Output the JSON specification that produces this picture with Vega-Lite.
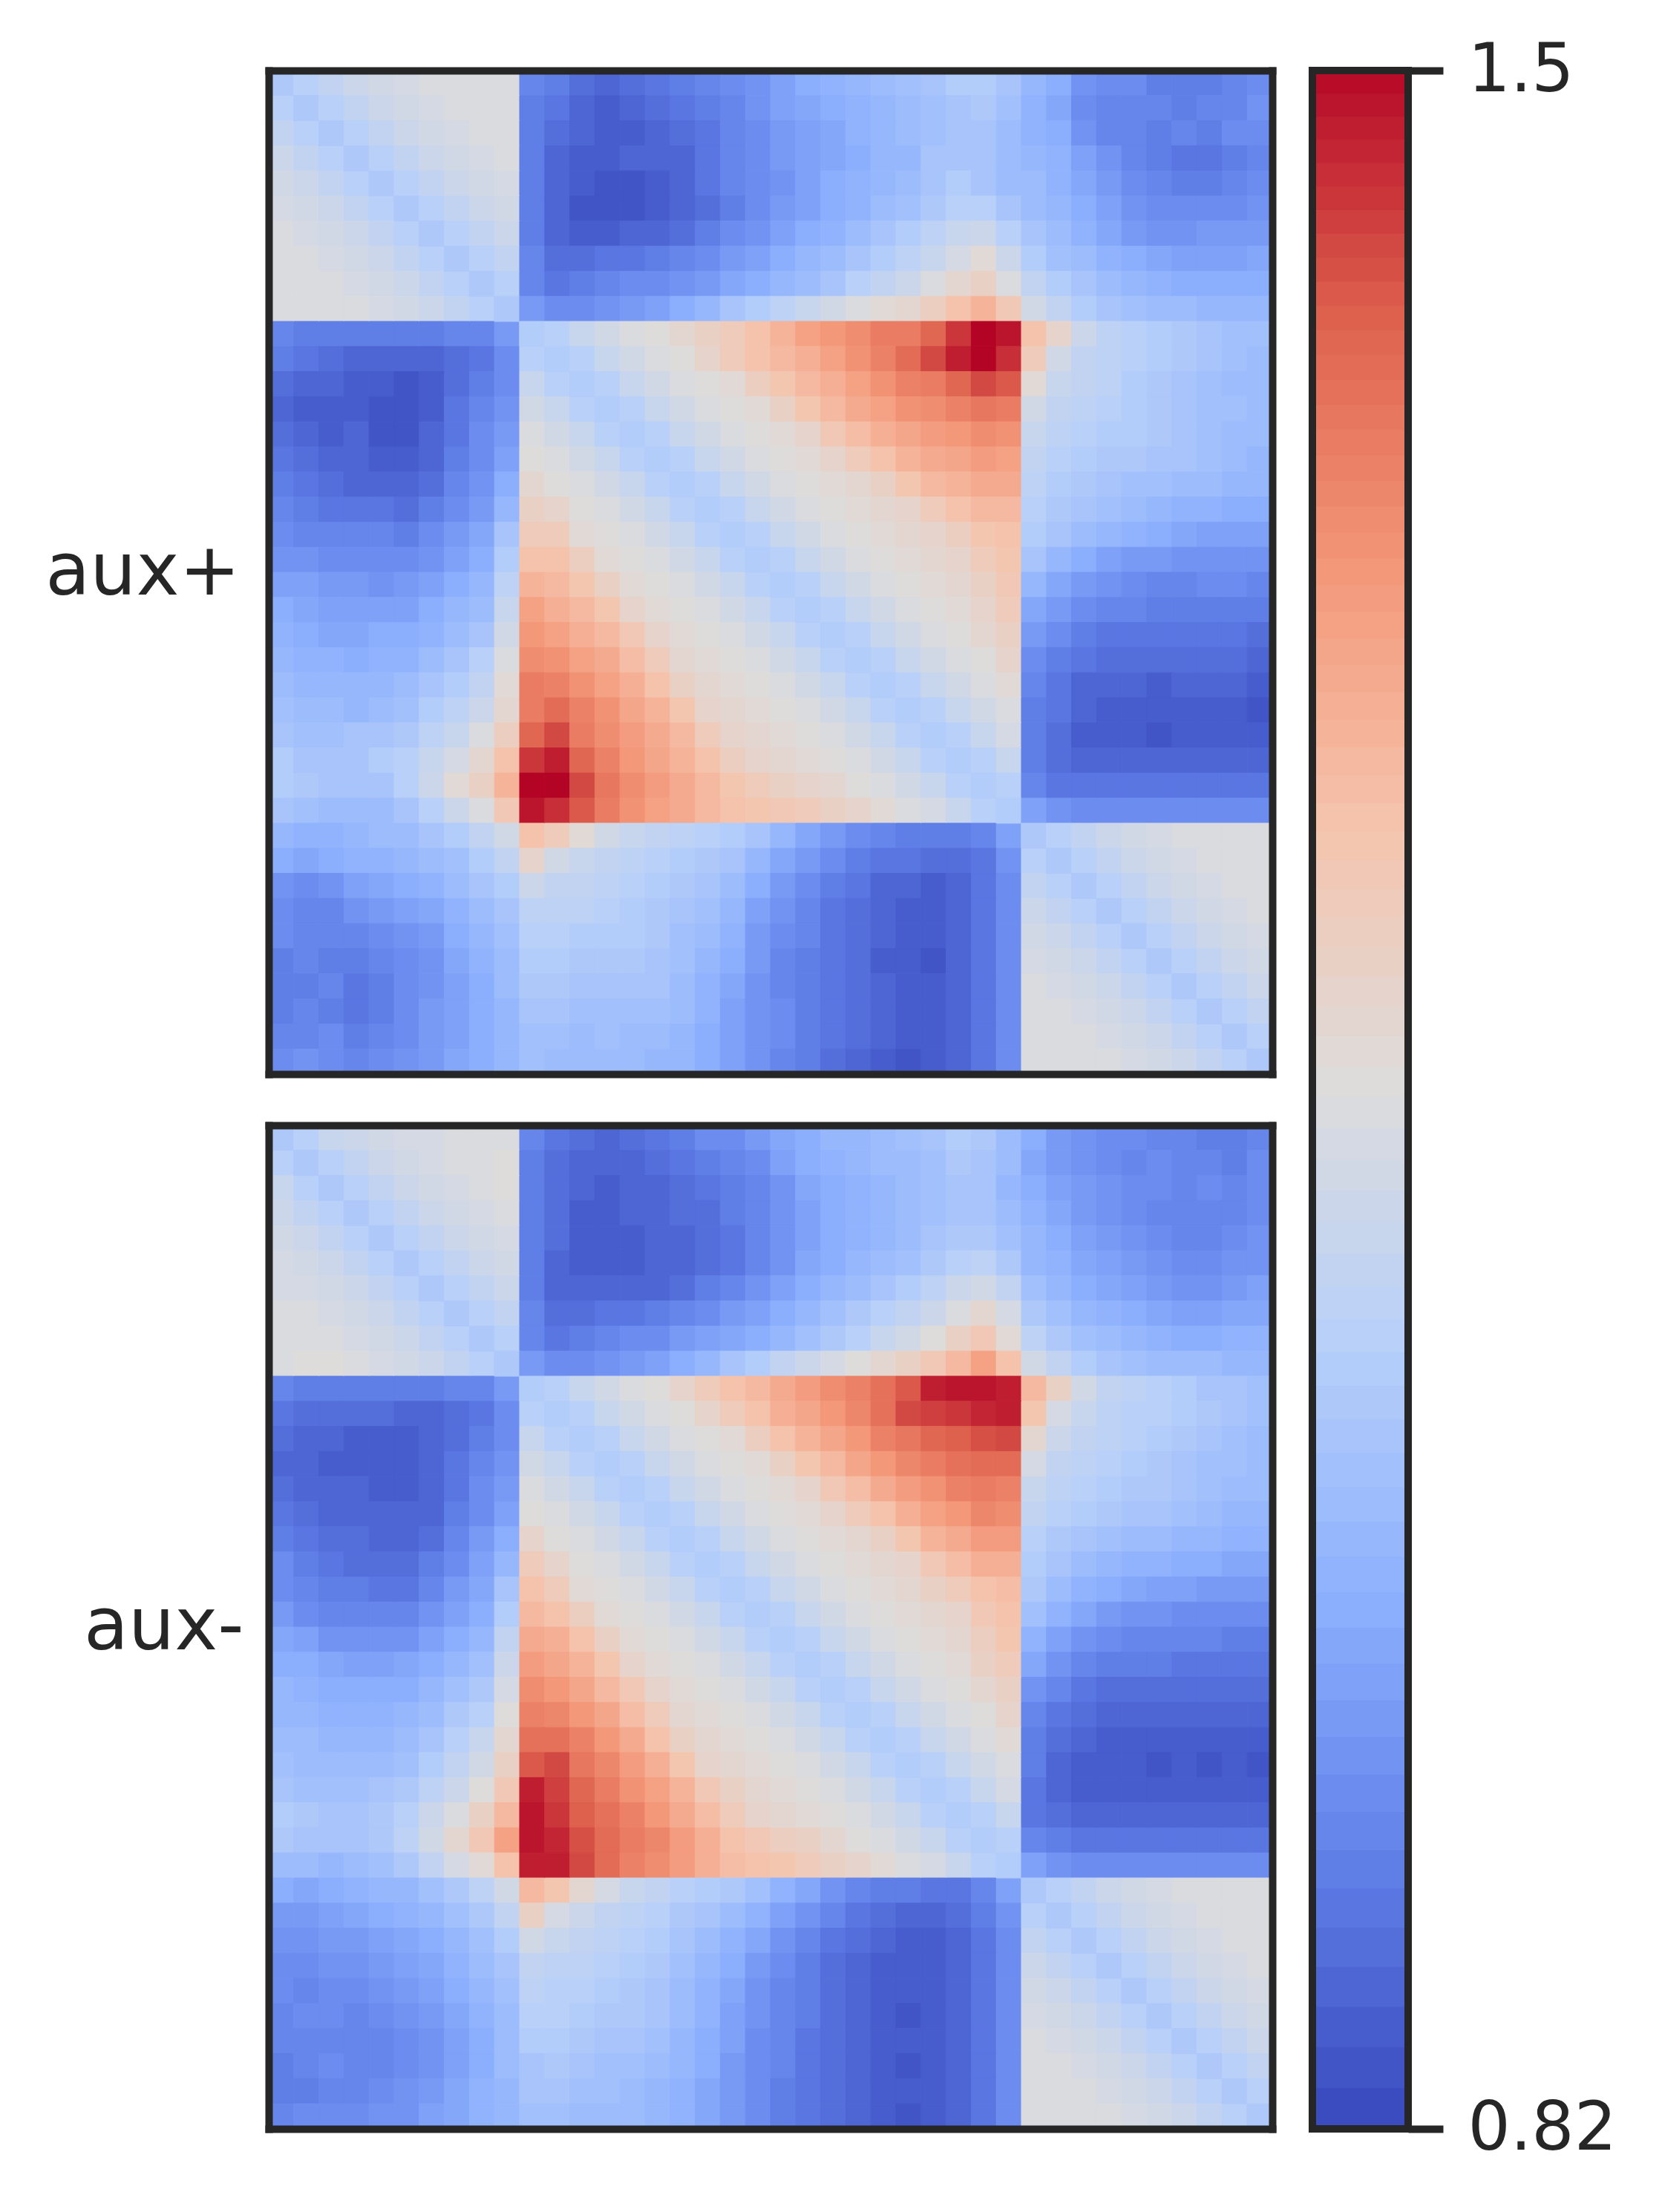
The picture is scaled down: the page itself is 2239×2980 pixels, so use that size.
{"$schema":"https://vega.github.io/schema/vega-lite/v6.json","background":"white","padding":{"left":60,"top":50,"right":5,"bottom":5},
"config":{"view":{"stroke":null},"range":{"heatmap":["#3b4cc0","#6282ea","#8db0fe","#b8d0f9","#dddcdc","#f5c4ad","#f4987a","#de614d","#b40426"]},"axis":{"labelFont":"DejaVu Sans","titleFont":"DejaVu Sans","labelColor":"#262626","titleColor":"#262626","titleFontWeight":"normal"}},
"datasets":{"hm":[
{"a":0,"b":0,"p":1.01,"m":1.01},{"a":0,"b":1,"p":1.03,"m":1.03},{"a":0,"b":2,"p":1.05,"m":1.06},{"a":0,"b":3,"p":1.07,"m":1.07},{"a":0,"b":4,"p":1.08,"m":1.08},{"a":0,"b":5,"p":1.09,"m":1.09},{"a":0,"b":6,"p":1.1,"m":1.09},{"a":0,"b":7,"p":1.1,"m":1.1},{"a":0,"b":8,"p":1.1,"m":1.1},{"a":0,"b":9,"p":1.1,"m":1.1},
{"a":0,"b":10,"p":0.89,"m":0.89},{"a":0,"b":11,"p":0.88,"m":0.87},{"a":0,"b":12,"p":0.86,"m":0.86},{"a":0,"b":13,"p":0.85,"m":0.85},{"a":0,"b":14,"p":0.86,"m":0.86},{"a":0,"b":15,"p":0.87,"m":0.87},{"a":0,"b":16,"p":0.88,"m":0.88},{"a":0,"b":17,"p":0.89,"m":0.9},{"a":0,"b":18,"p":0.9,"m":0.9},{"a":0,"b":19,"p":0.91,"m":0.92},{"a":0,"b":20,"p":0.93,"m":0.94},{"a":0,"b":21,"p":0.95,"m":0.95},{"a":0,"b":22,"p":0.96,"m":0.97},{"a":0,"b":23,"p":0.97,"m":0.97},{"a":0,"b":24,"p":0.98,"m":0.98},{"a":0,"b":25,"p":0.99,"m":0.99},{"a":0,"b":26,"p":1.0,"m":1.0},{"a":0,"b":27,"p":1.02,"m":1.02},{"a":0,"b":28,"p":1.02,"m":1.01},{"a":0,"b":29,"p":1.0,"m":0.98},
{"a":0,"b":30,"p":0.97,"m":0.95},{"a":0,"b":31,"p":0.95,"m":0.92},{"a":0,"b":32,"p":0.91,"m":0.91},{"a":0,"b":33,"p":0.9,"m":0.9},{"a":0,"b":34,"p":0.9,"m":0.9},{"a":0,"b":35,"p":0.88,"m":0.89},{"a":0,"b":36,"p":0.88,"m":0.89},{"a":0,"b":37,"p":0.88,"m":0.88},{"a":0,"b":38,"p":0.89,"m":0.88},{"a":0,"b":39,"p":0.9,"m":0.89},
{"a":1,"b":1,"p":1.01,"m":1.01},{"a":1,"b":2,"p":1.03,"m":1.03},{"a":1,"b":3,"p":1.05,"m":1.05},{"a":1,"b":4,"p":1.07,"m":1.07},{"a":1,"b":5,"p":1.08,"m":1.08},{"a":1,"b":6,"p":1.09,"m":1.09},{"a":1,"b":7,"p":1.1,"m":1.1},{"a":1,"b":8,"p":1.1,"m":1.1},{"a":1,"b":9,"p":1.1,"m":1.11},
{"a":1,"b":10,"p":0.88,"m":0.88},{"a":1,"b":11,"p":0.87,"m":0.86},{"a":1,"b":12,"p":0.85,"m":0.85},{"a":1,"b":13,"p":0.84,"m":0.85},{"a":1,"b":14,"p":0.85,"m":0.85},{"a":1,"b":15,"p":0.86,"m":0.86},{"a":1,"b":16,"p":0.87,"m":0.87},{"a":1,"b":17,"p":0.88,"m":0.88},{"a":1,"b":18,"p":0.89,"m":0.89},{"a":1,"b":19,"p":0.91,"m":0.9},{"a":1,"b":20,"p":0.93,"m":0.93},{"a":1,"b":21,"p":0.94,"m":0.95},{"a":1,"b":22,"p":0.95,"m":0.96},{"a":1,"b":23,"p":0.96,"m":0.97},{"a":1,"b":24,"p":0.97,"m":0.98},{"a":1,"b":25,"p":0.98,"m":0.98},{"a":1,"b":26,"p":0.99,"m":0.99},{"a":1,"b":27,"p":1.0,"m":1.01},{"a":1,"b":28,"p":1.01,"m":1.0},{"a":1,"b":29,"p":0.99,"m":0.98},
{"a":1,"b":30,"p":0.96,"m":0.94},{"a":1,"b":31,"p":0.94,"m":0.92},{"a":1,"b":32,"p":0.9,"m":0.91},{"a":1,"b":33,"p":0.89,"m":0.9},{"a":1,"b":34,"p":0.89,"m":0.89},{"a":1,"b":35,"p":0.89,"m":0.9},{"a":1,"b":36,"p":0.88,"m":0.89},{"a":1,"b":37,"p":0.89,"m":0.89},{"a":1,"b":38,"p":0.89,"m":0.88},{"a":1,"b":39,"p":0.91,"m":0.9},
{"a":2,"b":2,"p":1.01,"m":1.01},{"a":2,"b":3,"p":1.03,"m":1.03},{"a":2,"b":4,"p":1.05,"m":1.05},{"a":2,"b":5,"p":1.07,"m":1.07},{"a":2,"b":6,"p":1.08,"m":1.08},{"a":2,"b":7,"p":1.09,"m":1.09},{"a":2,"b":8,"p":1.1,"m":1.1},{"a":2,"b":9,"p":1.1,"m":1.11},
{"a":2,"b":10,"p":0.88,"m":0.88},{"a":2,"b":11,"p":0.86,"m":0.86},{"a":2,"b":12,"p":0.85,"m":0.85},{"a":2,"b":13,"p":0.84,"m":0.84},{"a":2,"b":14,"p":0.84,"m":0.85},{"a":2,"b":15,"p":0.85,"m":0.85},{"a":2,"b":16,"p":0.86,"m":0.86},{"a":2,"b":17,"p":0.87,"m":0.87},{"a":2,"b":18,"p":0.89,"m":0.88},{"a":2,"b":19,"p":0.9,"m":0.89},{"a":2,"b":20,"p":0.92,"m":0.91},{"a":2,"b":21,"p":0.93,"m":0.94},{"a":2,"b":22,"p":0.94,"m":0.95},{"a":2,"b":23,"p":0.96,"m":0.96},{"a":2,"b":24,"p":0.97,"m":0.97},{"a":2,"b":25,"p":0.98,"m":0.98},{"a":2,"b":26,"p":0.99,"m":0.99},{"a":2,"b":27,"p":1.0,"m":1.0},{"a":2,"b":28,"p":1.0,"m":1.0},{"a":2,"b":29,"p":0.98,"m":0.97},
{"a":2,"b":30,"p":0.96,"m":0.95},{"a":2,"b":31,"p":0.95,"m":0.93},{"a":2,"b":32,"p":0.91,"m":0.92},{"a":2,"b":33,"p":0.89,"m":0.91},{"a":2,"b":34,"p":0.89,"m":0.9},{"a":2,"b":35,"p":0.88,"m":0.9},{"a":2,"b":36,"p":0.89,"m":0.89},{"a":2,"b":37,"p":0.88,"m":0.9},{"a":2,"b":38,"p":0.9,"m":0.89},{"a":2,"b":39,"p":0.9,"m":0.9},
{"a":3,"b":3,"p":1.01,"m":1.01},{"a":3,"b":4,"p":1.03,"m":1.03},{"a":3,"b":5,"p":1.05,"m":1.05},{"a":3,"b":6,"p":1.07,"m":1.07},{"a":3,"b":7,"p":1.08,"m":1.08},{"a":3,"b":8,"p":1.09,"m":1.09},{"a":3,"b":9,"p":1.1,"m":1.1},
{"a":3,"b":10,"p":0.88,"m":0.88},{"a":3,"b":11,"p":0.85,"m":0.86},{"a":3,"b":12,"p":0.84,"m":0.84},{"a":3,"b":13,"p":0.84,"m":0.84},{"a":3,"b":14,"p":0.85,"m":0.85},{"a":3,"b":15,"p":0.85,"m":0.85},{"a":3,"b":16,"p":0.85,"m":0.86},{"a":3,"b":17,"p":0.87,"m":0.86},{"a":3,"b":18,"p":0.89,"m":0.88},{"a":3,"b":19,"p":0.9,"m":0.89},{"a":3,"b":20,"p":0.92,"m":0.91},{"a":3,"b":21,"p":0.93,"m":0.93},{"a":3,"b":22,"p":0.94,"m":0.95},{"a":3,"b":23,"p":0.95,"m":0.96},{"a":3,"b":24,"p":0.97,"m":0.97},{"a":3,"b":25,"p":0.97,"m":0.98},{"a":3,"b":26,"p":1.0,"m":0.99},{"a":3,"b":27,"p":1.0,"m":1.0},{"a":3,"b":28,"p":1.0,"m":1.0},{"a":3,"b":29,"p":0.98,"m":0.98},
{"a":3,"b":30,"p":0.97,"m":0.96},{"a":3,"b":31,"p":0.96,"m":0.94},{"a":3,"b":32,"p":0.93,"m":0.92},{"a":3,"b":33,"p":0.91,"m":0.91},{"a":3,"b":34,"p":0.89,"m":0.9},{"a":3,"b":35,"p":0.88,"m":0.89},{"a":3,"b":36,"p":0.87,"m":0.89},{"a":3,"b":37,"p":0.87,"m":0.89},{"a":3,"b":38,"p":0.88,"m":0.89},{"a":3,"b":39,"p":0.89,"m":0.9},
{"a":4,"b":4,"p":1.01,"m":1.01},{"a":4,"b":5,"p":1.03,"m":1.03},{"a":4,"b":6,"p":1.05,"m":1.05},{"a":4,"b":7,"p":1.07,"m":1.07},{"a":4,"b":8,"p":1.08,"m":1.08},{"a":4,"b":9,"p":1.09,"m":1.09},
{"a":4,"b":10,"p":0.88,"m":0.88},{"a":4,"b":11,"p":0.85,"m":0.86},{"a":4,"b":12,"p":0.84,"m":0.84},{"a":4,"b":13,"p":0.83,"m":0.84},{"a":4,"b":14,"p":0.83,"m":0.84},{"a":4,"b":15,"p":0.84,"m":0.85},{"a":4,"b":16,"p":0.85,"m":0.85},{"a":4,"b":17,"p":0.87,"m":0.86},{"a":4,"b":18,"p":0.89,"m":0.87},{"a":4,"b":19,"p":0.9,"m":0.89},{"a":4,"b":20,"p":0.91,"m":0.91},{"a":4,"b":21,"p":0.93,"m":0.93},{"a":4,"b":22,"p":0.95,"m":0.95},{"a":4,"b":23,"p":0.96,"m":0.96},{"a":4,"b":24,"p":0.97,"m":0.97},{"a":4,"b":25,"p":0.98,"m":0.98},{"a":4,"b":26,"p":1.0,"m":1.0},{"a":4,"b":27,"p":1.02,"m":1.01},{"a":4,"b":28,"p":1.0,"m":1.01},{"a":4,"b":29,"p":0.98,"m":0.99},
{"a":4,"b":30,"p":0.98,"m":0.97},{"a":4,"b":31,"p":0.96,"m":0.95},{"a":4,"b":32,"p":0.94,"m":0.93},{"a":4,"b":33,"p":0.92,"m":0.92},{"a":4,"b":34,"p":0.9,"m":0.91},{"a":4,"b":35,"p":0.89,"m":0.9},{"a":4,"b":36,"p":0.88,"m":0.89},{"a":4,"b":37,"p":0.88,"m":0.89},{"a":4,"b":38,"p":0.89,"m":0.9},{"a":4,"b":39,"p":0.9,"m":0.91},
{"a":5,"b":5,"p":1.01,"m":1.01},{"a":5,"b":6,"p":1.03,"m":1.03},{"a":5,"b":7,"p":1.05,"m":1.05},{"a":5,"b":8,"p":1.07,"m":1.07},{"a":5,"b":9,"p":1.08,"m":1.08},
{"a":5,"b":10,"p":0.88,"m":0.88},{"a":5,"b":11,"p":0.85,"m":0.85},{"a":5,"b":12,"p":0.83,"m":0.84},{"a":5,"b":13,"p":0.83,"m":0.84},{"a":5,"b":14,"p":0.83,"m":0.84},{"a":5,"b":15,"p":0.84,"m":0.85},{"a":5,"b":16,"p":0.85,"m":0.85},{"a":5,"b":17,"p":0.86,"m":0.86},{"a":5,"b":18,"p":0.88,"m":0.87},{"a":5,"b":19,"p":0.9,"m":0.89},{"a":5,"b":20,"p":0.92,"m":0.91},{"a":5,"b":21,"p":0.93,"m":0.94},{"a":5,"b":22,"p":0.95,"m":0.95},{"a":5,"b":23,"p":0.96,"m":0.97},{"a":5,"b":24,"p":0.98,"m":0.98},{"a":5,"b":25,"p":0.99,"m":0.99},{"a":5,"b":26,"p":1.01,"m":1.01},{"a":5,"b":27,"p":1.03,"m":1.03},{"a":5,"b":28,"p":1.03,"m":1.04},{"a":5,"b":29,"p":1.0,"m":1.01},
{"a":5,"b":30,"p":0.98,"m":0.97},{"a":5,"b":31,"p":0.97,"m":0.96},{"a":5,"b":32,"p":0.95,"m":0.94},{"a":5,"b":33,"p":0.93,"m":0.93},{"a":5,"b":34,"p":0.91,"m":0.92},{"a":5,"b":35,"p":0.9,"m":0.91},{"a":5,"b":36,"p":0.9,"m":0.9},{"a":5,"b":37,"p":0.9,"m":0.9},{"a":5,"b":38,"p":0.9,"m":0.91},{"a":5,"b":39,"p":0.91,"m":0.91},
{"a":6,"b":6,"p":1.01,"m":1.01},{"a":6,"b":7,"p":1.03,"m":1.03},{"a":6,"b":8,"p":1.05,"m":1.05},{"a":6,"b":9,"p":1.07,"m":1.07},
{"a":6,"b":10,"p":0.88,"m":0.88},{"a":6,"b":11,"p":0.85,"m":0.85},{"a":6,"b":12,"p":0.84,"m":0.85},{"a":6,"b":13,"p":0.84,"m":0.85},{"a":6,"b":14,"p":0.85,"m":0.85},{"a":6,"b":15,"p":0.85,"m":0.85},{"a":6,"b":16,"p":0.86,"m":0.86},{"a":6,"b":17,"p":0.88,"m":0.88},{"a":6,"b":18,"p":0.9,"m":0.89},{"a":6,"b":19,"p":0.91,"m":0.91},{"a":6,"b":20,"p":0.93,"m":0.93},{"a":6,"b":21,"p":0.95,"m":0.95},{"a":6,"b":22,"p":0.96,"m":0.97},{"a":6,"b":23,"p":0.98,"m":0.98},{"a":6,"b":24,"p":1.0,"m":1.0},{"a":6,"b":25,"p":1.02,"m":1.02},{"a":6,"b":26,"p":1.04,"m":1.04},{"a":6,"b":27,"p":1.06,"m":1.07},{"a":6,"b":28,"p":1.07,"m":1.08},{"a":6,"b":29,"p":1.03,"m":1.05},
{"a":6,"b":30,"p":1.0,"m":0.99},{"a":6,"b":31,"p":0.98,"m":0.97},{"a":6,"b":32,"p":0.96,"m":0.95},{"a":6,"b":33,"p":0.94,"m":0.94},{"a":6,"b":34,"p":0.92,"m":0.93},{"a":6,"b":35,"p":0.91,"m":0.92},{"a":6,"b":36,"p":0.91,"m":0.91},{"a":6,"b":37,"p":0.92,"m":0.91},{"a":6,"b":38,"p":0.92,"m":0.92},{"a":6,"b":39,"p":0.92,"m":0.93},
{"a":7,"b":7,"p":1.01,"m":1.01},{"a":7,"b":8,"p":1.03,"m":1.03},{"a":7,"b":9,"p":1.05,"m":1.05},
{"a":7,"b":10,"p":0.89,"m":0.89},{"a":7,"b":11,"p":0.86,"m":0.86},{"a":7,"b":12,"p":0.86,"m":0.86},{"a":7,"b":13,"p":0.87,"m":0.87},{"a":7,"b":14,"p":0.87,"m":0.87},{"a":7,"b":15,"p":0.88,"m":0.88},{"a":7,"b":16,"p":0.89,"m":0.89},{"a":7,"b":17,"p":0.9,"m":0.9},{"a":7,"b":18,"p":0.92,"m":0.92},{"a":7,"b":19,"p":0.93,"m":0.93},{"a":7,"b":20,"p":0.95,"m":0.95},{"a":7,"b":21,"p":0.97,"m":0.97},{"a":7,"b":22,"p":0.98,"m":0.99},{"a":7,"b":23,"p":1.0,"m":1.01},{"a":7,"b":24,"p":1.02,"m":1.03},{"a":7,"b":25,"p":1.04,"m":1.05},{"a":7,"b":26,"p":1.06,"m":1.07},{"a":7,"b":27,"p":1.09,"m":1.1},{"a":7,"b":28,"p":1.12,"m":1.13},{"a":7,"b":29,"p":1.07,"m":1.09},
{"a":7,"b":30,"p":1.02,"m":1.01},{"a":7,"b":31,"p":0.99,"m":0.99},{"a":7,"b":32,"p":0.98,"m":0.97},{"a":7,"b":33,"p":0.96,"m":0.96},{"a":7,"b":34,"p":0.95,"m":0.95},{"a":7,"b":35,"p":0.94,"m":0.94},{"a":7,"b":36,"p":0.93,"m":0.93},{"a":7,"b":37,"p":0.93,"m":0.93},{"a":7,"b":38,"p":0.93,"m":0.94},{"a":7,"b":39,"p":0.94,"m":0.94},
{"a":8,"b":8,"p":1.01,"m":1.01},{"a":8,"b":9,"p":1.03,"m":1.03},
{"a":8,"b":10,"p":0.89,"m":0.89},{"a":8,"b":11,"p":0.87,"m":0.87},{"a":8,"b":12,"p":0.88,"m":0.88},{"a":8,"b":13,"p":0.89,"m":0.89},{"a":8,"b":14,"p":0.9,"m":0.9},{"a":8,"b":15,"p":0.9,"m":0.9},{"a":8,"b":16,"p":0.91,"m":0.92},{"a":8,"b":17,"p":0.92,"m":0.93},{"a":8,"b":18,"p":0.94,"m":0.94},{"a":8,"b":19,"p":0.95,"m":0.95},{"a":8,"b":20,"p":0.97,"m":0.97},{"a":8,"b":21,"p":0.98,"m":0.99},{"a":8,"b":22,"p":1.0,"m":1.01},{"a":8,"b":23,"p":1.03,"m":1.03},{"a":8,"b":24,"p":1.05,"m":1.06},{"a":8,"b":25,"p":1.07,"m":1.08},{"a":8,"b":26,"p":1.1,"m":1.11},{"a":8,"b":27,"p":1.13,"m":1.15},{"a":8,"b":28,"p":1.15,"m":1.18},{"a":8,"b":29,"p":1.1,"m":1.12},
{"a":8,"b":30,"p":1.05,"m":1.04},{"a":8,"b":31,"p":1.02,"m":1.01},{"a":8,"b":32,"p":1.0,"m":0.99},{"a":8,"b":33,"p":0.98,"m":0.98},{"a":8,"b":34,"p":0.97,"m":0.97},{"a":8,"b":35,"p":0.96,"m":0.96},{"a":8,"b":36,"p":0.95,"m":0.95},{"a":8,"b":37,"p":0.95,"m":0.95},{"a":8,"b":38,"p":0.95,"m":0.96},{"a":8,"b":39,"p":0.95,"m":0.96},
{"a":9,"b":9,"p":1.01,"m":1.01},
{"a":9,"b":10,"p":0.92,"m":0.92},{"a":9,"b":11,"p":0.9,"m":0.9},{"a":9,"b":12,"p":0.9,"m":0.9},{"a":9,"b":13,"p":0.91,"m":0.91},{"a":9,"b":14,"p":0.92,"m":0.92},{"a":9,"b":15,"p":0.93,"m":0.93},{"a":9,"b":16,"p":0.95,"m":0.95},{"a":9,"b":17,"p":0.97,"m":0.97},{"a":9,"b":18,"p":1.0,"m":1.0},{"a":9,"b":19,"p":1.02,"m":1.02},{"a":9,"b":20,"p":1.04,"m":1.05},{"a":9,"b":21,"p":1.06,"m":1.07},{"a":9,"b":22,"p":1.08,"m":1.09},{"a":9,"b":23,"p":1.1,"m":1.11},{"a":9,"b":24,"p":1.12,"m":1.13},{"a":9,"b":25,"p":1.13,"m":1.15},{"a":9,"b":26,"p":1.16,"m":1.18},{"a":9,"b":27,"p":1.2,"m":1.22},{"a":9,"b":28,"p":1.23,"m":1.27},{"a":9,"b":29,"p":1.18,"m":1.2},
{"a":9,"b":30,"p":1.08,"m":1.08},{"a":9,"b":31,"p":1.05,"m":1.05},{"a":9,"b":32,"p":1.02,"m":1.02},{"a":9,"b":33,"p":1.0,"m":1.0},{"a":9,"b":34,"p":0.99,"m":0.99},{"a":9,"b":35,"p":0.98,"m":0.98},{"a":9,"b":36,"p":0.98,"m":0.98},{"a":9,"b":37,"p":0.97,"m":0.98},{"a":9,"b":38,"p":0.97,"m":0.97},{"a":9,"b":39,"p":0.97,"m":0.97},
{"a":10,"b":10,"p":1.02,"m":1.02},{"a":10,"b":11,"p":1.03,"m":1.03},{"a":10,"b":12,"p":1.06,"m":1.06},{"a":10,"b":13,"p":1.08,"m":1.08},{"a":10,"b":14,"p":1.1,"m":1.1},{"a":10,"b":15,"p":1.11,"m":1.11},{"a":10,"b":16,"p":1.13,"m":1.14},{"a":10,"b":17,"p":1.15,"m":1.17},{"a":10,"b":18,"p":1.17,"m":1.2},{"a":10,"b":19,"p":1.2,"m":1.22},{"a":10,"b":20,"p":1.23,"m":1.25},{"a":10,"b":21,"p":1.27,"m":1.28},{"a":10,"b":22,"p":1.29,"m":1.31},{"a":10,"b":23,"p":1.31,"m":1.33},{"a":10,"b":24,"p":1.34,"m":1.36},{"a":10,"b":25,"p":1.34,"m":1.4},{"a":10,"b":26,"p":1.38,"m":1.47},{"a":10,"b":27,"p":1.44,"m":1.48},{"a":10,"b":28,"p":1.5,"m":1.48},{"a":10,"b":29,"p":1.48,"m":1.47},
{"a":10,"b":30,"p":1.2,"m":1.22},{"a":10,"b":31,"p":1.14,"m":1.15},{"a":10,"b":32,"p":1.07,"m":1.08},{"a":10,"b":33,"p":1.04,"m":1.05},{"a":10,"b":34,"p":1.03,"m":1.04},{"a":10,"b":35,"p":1.02,"m":1.03},{"a":10,"b":36,"p":1.01,"m":1.02},{"a":10,"b":37,"p":1.0,"m":1.0},{"a":10,"b":38,"p":0.99,"m":1.0},{"a":10,"b":39,"p":0.99,"m":0.99},
{"a":11,"b":11,"p":1.02,"m":1.02},{"a":11,"b":12,"p":1.03,"m":1.03},{"a":11,"b":13,"p":1.06,"m":1.06},{"a":11,"b":14,"p":1.08,"m":1.08},{"a":11,"b":15,"p":1.1,"m":1.1},{"a":11,"b":16,"p":1.11,"m":1.11},{"a":11,"b":17,"p":1.14,"m":1.14},{"a":11,"b":18,"p":1.17,"m":1.17},{"a":11,"b":19,"p":1.2,"m":1.2},{"a":11,"b":20,"p":1.22,"m":1.24},{"a":11,"b":21,"p":1.24,"m":1.26},{"a":11,"b":22,"p":1.27,"m":1.29},{"a":11,"b":23,"p":1.3,"m":1.32},{"a":11,"b":24,"p":1.33,"m":1.36},{"a":11,"b":25,"p":1.37,"m":1.42},{"a":11,"b":26,"p":1.42,"m":1.43},{"a":11,"b":27,"p":1.47,"m":1.44},{"a":11,"b":28,"p":1.5,"m":1.46},{"a":11,"b":29,"p":1.45,"m":1.47},
{"a":11,"b":30,"p":1.17,"m":1.19},{"a":11,"b":31,"p":1.08,"m":1.09},{"a":11,"b":32,"p":1.05,"m":1.06},{"a":11,"b":33,"p":1.04,"m":1.04},{"a":11,"b":34,"p":1.03,"m":1.03},{"a":11,"b":35,"p":1.02,"m":1.03},{"a":11,"b":36,"p":1.01,"m":1.02},{"a":11,"b":37,"p":1.0,"m":1.01},{"a":11,"b":38,"p":0.99,"m":1.0},{"a":11,"b":39,"p":0.98,"m":0.99},
{"a":12,"b":12,"p":1.02,"m":1.02},{"a":12,"b":13,"p":1.03,"m":1.03},{"a":12,"b":14,"p":1.06,"m":1.06},{"a":12,"b":15,"p":1.08,"m":1.08},{"a":12,"b":16,"p":1.1,"m":1.1},{"a":12,"b":17,"p":1.11,"m":1.11},{"a":12,"b":18,"p":1.12,"m":1.12},{"a":12,"b":19,"p":1.16,"m":1.16},{"a":12,"b":20,"p":1.19,"m":1.2},{"a":12,"b":21,"p":1.22,"m":1.23},{"a":12,"b":22,"p":1.24,"m":1.26},{"a":12,"b":23,"p":1.27,"m":1.29},{"a":12,"b":24,"p":1.3,"m":1.33},{"a":12,"b":25,"p":1.33,"m":1.35},{"a":12,"b":26,"p":1.34,"m":1.38},{"a":12,"b":27,"p":1.38,"m":1.39},{"a":12,"b":28,"p":1.42,"m":1.41},{"a":12,"b":29,"p":1.4,"m":1.42},
{"a":12,"b":30,"p":1.12,"m":1.13},{"a":12,"b":31,"p":1.06,"m":1.07},{"a":12,"b":32,"p":1.05,"m":1.05},{"a":12,"b":33,"p":1.04,"m":1.04},{"a":12,"b":34,"p":1.02,"m":1.03},{"a":12,"b":35,"p":1.01,"m":1.02},{"a":12,"b":36,"p":1.0,"m":1.01},{"a":12,"b":37,"p":0.99,"m":1.0},{"a":12,"b":38,"p":0.98,"m":0.99},{"a":12,"b":39,"p":0.98,"m":0.98},
{"a":13,"b":13,"p":1.02,"m":1.02},{"a":13,"b":14,"p":1.03,"m":1.03},{"a":13,"b":15,"p":1.06,"m":1.06},{"a":13,"b":16,"p":1.08,"m":1.08},{"a":13,"b":17,"p":1.1,"m":1.1},{"a":13,"b":18,"p":1.11,"m":1.11},{"a":13,"b":19,"p":1.12,"m":1.12},{"a":13,"b":20,"p":1.15,"m":1.15},{"a":13,"b":21,"p":1.19,"m":1.19},{"a":13,"b":22,"p":1.22,"m":1.22},{"a":13,"b":23,"p":1.25,"m":1.26},{"a":13,"b":24,"p":1.27,"m":1.29},{"a":13,"b":25,"p":1.3,"m":1.32},{"a":13,"b":26,"p":1.31,"m":1.34},{"a":13,"b":27,"p":1.33,"m":1.36},{"a":13,"b":28,"p":1.35,"m":1.37},{"a":13,"b":29,"p":1.34,"m":1.37},
{"a":13,"b":30,"p":1.08,"m":1.09},{"a":13,"b":31,"p":1.05,"m":1.05},{"a":13,"b":32,"p":1.04,"m":1.04},{"a":13,"b":33,"p":1.03,"m":1.03},{"a":13,"b":34,"p":1.02,"m":1.02},{"a":13,"b":35,"p":1.01,"m":1.01},{"a":13,"b":36,"p":1.0,"m":1.0},{"a":13,"b":37,"p":0.99,"m":0.99},{"a":13,"b":38,"p":0.99,"m":0.99},{"a":13,"b":39,"p":0.98,"m":0.98},
{"a":14,"b":14,"p":1.02,"m":1.02},{"a":14,"b":15,"p":1.03,"m":1.03},{"a":14,"b":16,"p":1.06,"m":1.06},{"a":14,"b":17,"p":1.08,"m":1.08},{"a":14,"b":18,"p":1.1,"m":1.1},{"a":14,"b":19,"p":1.11,"m":1.11},{"a":14,"b":20,"p":1.12,"m":1.12},{"a":14,"b":21,"p":1.14,"m":1.14},{"a":14,"b":22,"p":1.18,"m":1.18},{"a":14,"b":23,"p":1.21,"m":1.21},{"a":14,"b":24,"p":1.24,"m":1.25},{"a":14,"b":25,"p":1.26,"m":1.28},{"a":14,"b":26,"p":1.28,"m":1.3},{"a":14,"b":27,"p":1.29,"m":1.33},{"a":14,"b":28,"p":1.31,"m":1.34},{"a":14,"b":29,"p":1.3,"m":1.33},
{"a":14,"b":30,"p":1.06,"m":1.06},{"a":14,"b":31,"p":1.04,"m":1.04},{"a":14,"b":32,"p":1.03,"m":1.03},{"a":14,"b":33,"p":1.02,"m":1.02},{"a":14,"b":34,"p":1.02,"m":1.01},{"a":14,"b":35,"p":1.01,"m":1.01},{"a":14,"b":36,"p":1.0,"m":1.0},{"a":14,"b":37,"p":0.99,"m":0.99},{"a":14,"b":38,"p":0.98,"m":0.98},{"a":14,"b":39,"p":0.98,"m":0.98},
{"a":15,"b":15,"p":1.02,"m":1.02},{"a":15,"b":16,"p":1.03,"m":1.03},{"a":15,"b":17,"p":1.06,"m":1.06},{"a":15,"b":18,"p":1.08,"m":1.08},{"a":15,"b":19,"p":1.1,"m":1.1},{"a":15,"b":20,"p":1.11,"m":1.11},{"a":15,"b":21,"p":1.12,"m":1.12},{"a":15,"b":22,"p":1.14,"m":1.14},{"a":15,"b":23,"p":1.17,"m":1.17},{"a":15,"b":24,"p":1.2,"m":1.2},{"a":15,"b":25,"p":1.23,"m":1.24},{"a":15,"b":26,"p":1.25,"m":1.27},{"a":15,"b":27,"p":1.26,"m":1.29},{"a":15,"b":28,"p":1.28,"m":1.32},{"a":15,"b":29,"p":1.27,"m":1.31},
{"a":15,"b":30,"p":1.05,"m":1.05},{"a":15,"b":31,"p":1.03,"m":1.03},{"a":15,"b":32,"p":1.02,"m":1.02},{"a":15,"b":33,"p":1.01,"m":1.01},{"a":15,"b":34,"p":1.01,"m":1.0},{"a":15,"b":35,"p":1.0,"m":1.0},{"a":15,"b":36,"p":1.0,"m":0.99},{"a":15,"b":37,"p":0.99,"m":0.98},{"a":15,"b":38,"p":0.98,"m":0.97},{"a":15,"b":39,"p":0.97,"m":0.97},
{"a":16,"b":16,"p":1.02,"m":1.02},{"a":16,"b":17,"p":1.03,"m":1.03},{"a":16,"b":18,"p":1.06,"m":1.06},{"a":16,"b":19,"p":1.08,"m":1.08},{"a":16,"b":20,"p":1.1,"m":1.1},{"a":16,"b":21,"p":1.11,"m":1.11},{"a":16,"b":22,"p":1.12,"m":1.12},{"a":16,"b":23,"p":1.13,"m":1.13},{"a":16,"b":24,"p":1.15,"m":1.15},{"a":16,"b":25,"p":1.19,"m":1.19},{"a":16,"b":26,"p":1.22,"m":1.23},{"a":16,"b":27,"p":1.23,"m":1.25},{"a":16,"b":28,"p":1.25,"m":1.28},{"a":16,"b":29,"p":1.25,"m":1.28},
{"a":16,"b":30,"p":1.04,"m":1.03},{"a":16,"b":31,"p":1.02,"m":1.01},{"a":16,"b":32,"p":1.01,"m":1.0},{"a":16,"b":33,"p":1.0,"m":0.99},{"a":16,"b":34,"p":0.99,"m":0.98},{"a":16,"b":35,"p":0.99,"m":0.98},{"a":16,"b":36,"p":0.98,"m":0.97},{"a":16,"b":37,"p":0.98,"m":0.97},{"a":16,"b":38,"p":0.97,"m":0.96},{"a":16,"b":39,"p":0.97,"m":0.96},
{"a":17,"b":17,"p":1.02,"m":1.02},{"a":17,"b":18,"p":1.03,"m":1.03},{"a":17,"b":19,"p":1.06,"m":1.06},{"a":17,"b":20,"p":1.08,"m":1.08},{"a":17,"b":21,"p":1.1,"m":1.1},{"a":17,"b":22,"p":1.11,"m":1.11},{"a":17,"b":23,"p":1.12,"m":1.12},{"a":17,"b":24,"p":1.13,"m":1.13},{"a":17,"b":25,"p":1.14,"m":1.14},{"a":17,"b":26,"p":1.17,"m":1.18},{"a":17,"b":27,"p":1.2,"m":1.21},{"a":17,"b":28,"p":1.22,"m":1.24},{"a":17,"b":29,"p":1.22,"m":1.24},
{"a":17,"b":30,"p":1.03,"m":1.02},{"a":17,"b":31,"p":1.01,"m":1.0},{"a":17,"b":32,"p":1.0,"m":0.98},{"a":17,"b":33,"p":0.99,"m":0.97},{"a":17,"b":34,"p":0.98,"m":0.96},{"a":17,"b":35,"p":0.97,"m":0.96},{"a":17,"b":36,"p":0.96,"m":0.95},{"a":17,"b":37,"p":0.96,"m":0.95},{"a":17,"b":38,"p":0.95,"m":0.94},{"a":17,"b":39,"p":0.95,"m":0.94},
{"a":18,"b":18,"p":1.02,"m":1.02},{"a":18,"b":19,"p":1.03,"m":1.03},{"a":18,"b":20,"p":1.06,"m":1.06},{"a":18,"b":21,"p":1.08,"m":1.08},{"a":18,"b":22,"p":1.1,"m":1.1},{"a":18,"b":23,"p":1.11,"m":1.11},{"a":18,"b":24,"p":1.12,"m":1.12},{"a":18,"b":25,"p":1.13,"m":1.13},{"a":18,"b":26,"p":1.14,"m":1.15},{"a":18,"b":27,"p":1.16,"m":1.17},{"a":18,"b":28,"p":1.19,"m":1.2},{"a":18,"b":29,"p":1.2,"m":1.21},
{"a":18,"b":30,"p":1.02,"m":1.01},{"a":18,"b":31,"p":1.0,"m":0.98},{"a":18,"b":32,"p":0.98,"m":0.96},{"a":18,"b":33,"p":0.97,"m":0.95},{"a":18,"b":34,"p":0.96,"m":0.94},{"a":18,"b":35,"p":0.95,"m":0.93},{"a":18,"b":36,"p":0.94,"m":0.93},{"a":18,"b":37,"p":0.93,"m":0.92},{"a":18,"b":38,"p":0.93,"m":0.92},{"a":18,"b":39,"p":0.93,"m":0.92},
{"a":19,"b":19,"p":1.02,"m":1.02},{"a":19,"b":20,"p":1.03,"m":1.03},{"a":19,"b":21,"p":1.06,"m":1.06},{"a":19,"b":22,"p":1.08,"m":1.08},{"a":19,"b":23,"p":1.1,"m":1.1},{"a":19,"b":24,"p":1.11,"m":1.11},{"a":19,"b":25,"p":1.12,"m":1.12},{"a":19,"b":26,"p":1.13,"m":1.13},{"a":19,"b":27,"p":1.14,"m":1.14},{"a":19,"b":28,"p":1.17,"m":1.18},{"a":19,"b":29,"p":1.19,"m":1.2},
{"a":19,"b":30,"p":1.0,"m":0.99},{"a":19,"b":31,"p":0.97,"m":0.96},{"a":19,"b":32,"p":0.95,"m":0.94},{"a":19,"b":33,"p":0.93,"m":0.92},{"a":19,"b":34,"p":0.92,"m":0.91},{"a":19,"b":35,"p":0.92,"m":0.91},{"a":19,"b":36,"p":0.91,"m":0.9},{"a":19,"b":37,"p":0.91,"m":0.9},{"a":19,"b":38,"p":0.91,"m":0.9},{"a":19,"b":39,"p":0.91,"m":0.9},
{"a":20,"b":20,"p":1.02,"m":1.02},{"a":20,"b":21,"p":1.03,"m":1.03},{"a":20,"b":22,"p":1.06,"m":1.06},{"a":20,"b":23,"p":1.08,"m":1.08},{"a":20,"b":24,"p":1.1,"m":1.1},{"a":20,"b":25,"p":1.11,"m":1.11},{"a":20,"b":26,"p":1.12,"m":1.12},{"a":20,"b":27,"p":1.13,"m":1.13},{"a":20,"b":28,"p":1.15,"m":1.16},{"a":20,"b":29,"p":1.18,"m":1.19},
{"a":20,"b":30,"p":0.97,"m":0.96},{"a":20,"b":31,"p":0.94,"m":0.93},{"a":20,"b":32,"p":0.92,"m":0.91},{"a":20,"b":33,"p":0.91,"m":0.9},{"a":20,"b":34,"p":0.9,"m":0.89},{"a":20,"b":35,"p":0.89,"m":0.89},{"a":20,"b":36,"p":0.89,"m":0.89},{"a":20,"b":37,"p":0.9,"m":0.89},{"a":20,"b":38,"p":0.9,"m":0.88},{"a":20,"b":39,"p":0.89,"m":0.88},
{"a":21,"b":21,"p":1.02,"m":1.02},{"a":21,"b":22,"p":1.03,"m":1.03},{"a":21,"b":23,"p":1.06,"m":1.06},{"a":21,"b":24,"p":1.08,"m":1.08},{"a":21,"b":25,"p":1.1,"m":1.1},{"a":21,"b":26,"p":1.11,"m":1.11},{"a":21,"b":27,"p":1.12,"m":1.12},{"a":21,"b":28,"p":1.14,"m":1.15},{"a":21,"b":29,"p":1.17,"m":1.17},
{"a":21,"b":30,"p":0.94,"m":0.94},{"a":21,"b":31,"p":0.92,"m":0.91},{"a":21,"b":32,"p":0.9,"m":0.89},{"a":21,"b":33,"p":0.89,"m":0.88},{"a":21,"b":34,"p":0.89,"m":0.88},{"a":21,"b":35,"p":0.88,"m":0.88},{"a":21,"b":36,"p":0.88,"m":0.87},{"a":21,"b":37,"p":0.88,"m":0.87},{"a":21,"b":38,"p":0.88,"m":0.87},{"a":21,"b":39,"p":0.88,"m":0.87},
{"a":22,"b":22,"p":1.02,"m":1.02},{"a":22,"b":23,"p":1.03,"m":1.03},{"a":22,"b":24,"p":1.06,"m":1.06},{"a":22,"b":25,"p":1.08,"m":1.08},{"a":22,"b":26,"p":1.1,"m":1.1},{"a":22,"b":27,"p":1.11,"m":1.11},{"a":22,"b":28,"p":1.13,"m":1.13},{"a":22,"b":29,"p":1.15,"m":1.15},
{"a":22,"b":30,"p":0.92,"m":0.91},{"a":22,"b":31,"p":0.9,"m":0.89},{"a":22,"b":32,"p":0.88,"m":0.87},{"a":22,"b":33,"p":0.87,"m":0.86},{"a":22,"b":34,"p":0.87,"m":0.86},{"a":22,"b":35,"p":0.87,"m":0.86},{"a":22,"b":36,"p":0.87,"m":0.86},{"a":22,"b":37,"p":0.87,"m":0.86},{"a":22,"b":38,"p":0.87,"m":0.86},{"a":22,"b":39,"p":0.86,"m":0.86},
{"a":23,"b":23,"p":1.02,"m":1.02},{"a":23,"b":24,"p":1.03,"m":1.03},{"a":23,"b":25,"p":1.06,"m":1.06},{"a":23,"b":26,"p":1.08,"m":1.08},{"a":23,"b":27,"p":1.1,"m":1.1},{"a":23,"b":28,"p":1.11,"m":1.11},{"a":23,"b":29,"p":1.14,"m":1.14},
{"a":23,"b":30,"p":0.9,"m":0.89},{"a":23,"b":31,"p":0.88,"m":0.87},{"a":23,"b":32,"p":0.87,"m":0.86},{"a":23,"b":33,"p":0.86,"m":0.85},{"a":23,"b":34,"p":0.86,"m":0.85},{"a":23,"b":35,"p":0.86,"m":0.85},{"a":23,"b":36,"p":0.86,"m":0.85},{"a":23,"b":37,"p":0.86,"m":0.85},{"a":23,"b":38,"p":0.86,"m":0.85},{"a":23,"b":39,"p":0.85,"m":0.85},
{"a":24,"b":24,"p":1.02,"m":1.02},{"a":24,"b":25,"p":1.03,"m":1.03},{"a":24,"b":26,"p":1.06,"m":1.06},{"a":24,"b":27,"p":1.08,"m":1.08},{"a":24,"b":28,"p":1.1,"m":1.1},{"a":24,"b":29,"p":1.12,"m":1.12},
{"a":24,"b":30,"p":0.89,"m":0.88},{"a":24,"b":31,"p":0.87,"m":0.86},{"a":24,"b":32,"p":0.85,"m":0.85},{"a":24,"b":33,"p":0.85,"m":0.84},{"a":24,"b":34,"p":0.85,"m":0.84},{"a":24,"b":35,"p":0.84,"m":0.84},{"a":24,"b":36,"p":0.85,"m":0.84},{"a":24,"b":37,"p":0.85,"m":0.84},{"a":24,"b":38,"p":0.85,"m":0.84},{"a":24,"b":39,"p":0.84,"m":0.84},
{"a":25,"b":25,"p":1.02,"m":1.02},{"a":25,"b":26,"p":1.03,"m":1.03},{"a":25,"b":27,"p":1.06,"m":1.06},{"a":25,"b":28,"p":1.08,"m":1.08},{"a":25,"b":29,"p":1.1,"m":1.1},
{"a":25,"b":30,"p":0.88,"m":0.88},{"a":25,"b":31,"p":0.87,"m":0.85},{"a":25,"b":32,"p":0.85,"m":0.84},{"a":25,"b":33,"p":0.84,"m":0.84},{"a":25,"b":34,"p":0.84,"m":0.84},{"a":25,"b":35,"p":0.84,"m":0.83},{"a":25,"b":36,"p":0.84,"m":0.84},{"a":25,"b":37,"p":0.84,"m":0.83},{"a":25,"b":38,"p":0.84,"m":0.84},{"a":25,"b":39,"p":0.83,"m":0.83},
{"a":26,"b":26,"p":1.02,"m":1.02},{"a":26,"b":27,"p":1.03,"m":1.03},{"a":26,"b":28,"p":1.06,"m":1.06},{"a":26,"b":29,"p":1.09,"m":1.09},
{"a":26,"b":30,"p":0.88,"m":0.87},{"a":26,"b":31,"p":0.86,"m":0.85},{"a":26,"b":32,"p":0.84,"m":0.84},{"a":26,"b":33,"p":0.84,"m":0.84},{"a":26,"b":34,"p":0.84,"m":0.84},{"a":26,"b":35,"p":0.83,"m":0.84},{"a":26,"b":36,"p":0.84,"m":0.84},{"a":26,"b":37,"p":0.84,"m":0.84},{"a":26,"b":38,"p":0.84,"m":0.84},{"a":26,"b":39,"p":0.84,"m":0.84},
{"a":27,"b":27,"p":1.02,"m":1.02},{"a":27,"b":28,"p":1.03,"m":1.03},{"a":27,"b":29,"p":1.06,"m":1.06},
{"a":27,"b":30,"p":0.88,"m":0.87},{"a":27,"b":31,"p":0.86,"m":0.86},{"a":27,"b":32,"p":0.85,"m":0.85},{"a":27,"b":33,"p":0.85,"m":0.85},{"a":27,"b":34,"p":0.85,"m":0.85},{"a":27,"b":35,"p":0.85,"m":0.85},{"a":27,"b":36,"p":0.85,"m":0.85},{"a":27,"b":37,"p":0.85,"m":0.85},{"a":27,"b":38,"p":0.85,"m":0.85},{"a":27,"b":39,"p":0.85,"m":0.85},
{"a":28,"b":28,"p":1.02,"m":1.02},{"a":28,"b":29,"p":1.03,"m":1.03},
{"a":28,"b":30,"p":0.89,"m":0.89},{"a":28,"b":31,"p":0.87,"m":0.88},{"a":28,"b":32,"p":0.87,"m":0.87},{"a":28,"b":33,"p":0.87,"m":0.87},{"a":28,"b":34,"p":0.87,"m":0.87},{"a":28,"b":35,"p":0.87,"m":0.87},{"a":28,"b":36,"p":0.87,"m":0.87},{"a":28,"b":37,"p":0.87,"m":0.87},{"a":28,"b":38,"p":0.87,"m":0.87},{"a":28,"b":39,"p":0.87,"m":0.87},
{"a":29,"b":29,"p":1.02,"m":1.02},
{"a":29,"b":30,"p":0.93,"m":0.93},{"a":29,"b":31,"p":0.91,"m":0.91},{"a":29,"b":32,"p":0.9,"m":0.9},{"a":29,"b":33,"p":0.9,"m":0.9},{"a":29,"b":34,"p":0.9,"m":0.9},{"a":29,"b":35,"p":0.9,"m":0.9},{"a":29,"b":36,"p":0.9,"m":0.9},{"a":29,"b":37,"p":0.9,"m":0.9},{"a":29,"b":38,"p":0.9,"m":0.9},{"a":29,"b":39,"p":0.9,"m":0.9},
{"a":30,"b":30,"p":1.01,"m":1.01},{"a":30,"b":31,"p":1.03,"m":1.03},{"a":30,"b":32,"p":1.05,"m":1.05},{"a":30,"b":33,"p":1.07,"m":1.07},{"a":30,"b":34,"p":1.08,"m":1.08},{"a":30,"b":35,"p":1.09,"m":1.09},{"a":30,"b":36,"p":1.1,"m":1.1},{"a":30,"b":37,"p":1.1,"m":1.1},{"a":30,"b":38,"p":1.1,"m":1.1},{"a":30,"b":39,"p":1.1,"m":1.1},
{"a":31,"b":31,"p":1.01,"m":1.01},{"a":31,"b":32,"p":1.03,"m":1.03},{"a":31,"b":33,"p":1.05,"m":1.05},{"a":31,"b":34,"p":1.07,"m":1.07},{"a":31,"b":35,"p":1.08,"m":1.08},{"a":31,"b":36,"p":1.09,"m":1.09},{"a":31,"b":37,"p":1.1,"m":1.1},{"a":31,"b":38,"p":1.1,"m":1.1},{"a":31,"b":39,"p":1.1,"m":1.1},
{"a":32,"b":32,"p":1.01,"m":1.01},{"a":32,"b":33,"p":1.03,"m":1.03},{"a":32,"b":34,"p":1.05,"m":1.05},{"a":32,"b":35,"p":1.07,"m":1.07},{"a":32,"b":36,"p":1.08,"m":1.08},{"a":32,"b":37,"p":1.09,"m":1.09},{"a":32,"b":38,"p":1.1,"m":1.1},{"a":32,"b":39,"p":1.1,"m":1.1},
{"a":33,"b":33,"p":1.01,"m":1.01},{"a":33,"b":34,"p":1.03,"m":1.03},{"a":33,"b":35,"p":1.05,"m":1.05},{"a":33,"b":36,"p":1.07,"m":1.07},{"a":33,"b":37,"p":1.08,"m":1.08},{"a":33,"b":38,"p":1.09,"m":1.09},{"a":33,"b":39,"p":1.1,"m":1.1},
{"a":34,"b":34,"p":1.01,"m":1.01},{"a":34,"b":35,"p":1.03,"m":1.03},{"a":34,"b":36,"p":1.05,"m":1.05},{"a":34,"b":37,"p":1.07,"m":1.07},{"a":34,"b":38,"p":1.08,"m":1.08},{"a":34,"b":39,"p":1.09,"m":1.09},
{"a":35,"b":35,"p":1.01,"m":1.01},{"a":35,"b":36,"p":1.03,"m":1.03},{"a":35,"b":37,"p":1.05,"m":1.05},{"a":35,"b":38,"p":1.07,"m":1.07},{"a":35,"b":39,"p":1.08,"m":1.08},
{"a":36,"b":36,"p":1.01,"m":1.01},{"a":36,"b":37,"p":1.03,"m":1.03},{"a":36,"b":38,"p":1.05,"m":1.05},{"a":36,"b":39,"p":1.07,"m":1.07},
{"a":37,"b":37,"p":1.01,"m":1.01},{"a":37,"b":38,"p":1.03,"m":1.03},{"a":37,"b":39,"p":1.05,"m":1.05},
{"a":38,"b":38,"p":1.01,"m":1.01},{"a":38,"b":39,"p":1.03,"m":1.03},
{"a":39,"b":39,"p":1.01,"m":1.01}
],"cb":[
{"v":0.82,"w":0.83},{"v":0.83,"w":0.84},{"v":0.84,"w":0.85},{"v":0.85,"w":0.86},{"v":0.86,"w":0.87},{"v":0.87,"w":0.88},{"v":0.88,"w":0.89},{"v":0.89,"w":0.9},{"v":0.9,"w":0.91},{"v":0.91,"w":0.92},{"v":0.92,"w":0.93},{"v":0.93,"w":0.94},{"v":0.94,"w":0.95},{"v":0.95,"w":0.96},{"v":0.96,"w":0.97},{"v":0.97,"w":0.98},{"v":0.98,"w":0.99},{"v":0.99,"w":1.0},{"v":1.0,"w":1.01},{"v":1.01,"w":1.02},{"v":1.02,"w":1.03},{"v":1.03,"w":1.04},{"v":1.04,"w":1.05},{"v":1.05,"w":1.06},{"v":1.06,"w":1.07},{"v":1.07,"w":1.08},{"v":1.08,"w":1.09},{"v":1.09,"w":1.1},{"v":1.1,"w":1.11},{"v":1.11,"w":1.12},{"v":1.12,"w":1.13},{"v":1.13,"w":1.14},{"v":1.14,"w":1.15},{"v":1.15,"w":1.16},{"v":1.16,"w":1.17},{"v":1.17,"w":1.18},{"v":1.18,"w":1.19},{"v":1.19,"w":1.2},{"v":1.2,"w":1.21},{"v":1.21,"w":1.22},{"v":1.22,"w":1.23},{"v":1.23,"w":1.24},{"v":1.24,"w":1.25},{"v":1.25,"w":1.26},{"v":1.26,"w":1.27},{"v":1.27,"w":1.28},{"v":1.28,"w":1.29},{"v":1.29,"w":1.3},{"v":1.3,"w":1.31},{"v":1.31,"w":1.32},{"v":1.32,"w":1.33},{"v":1.33,"w":1.34},{"v":1.34,"w":1.35},{"v":1.35,"w":1.36},{"v":1.36,"w":1.37},{"v":1.37,"w":1.38},{"v":1.38,"w":1.39},{"v":1.39,"w":1.4},{"v":1.4,"w":1.41},{"v":1.41,"w":1.42},{"v":1.42,"w":1.43},{"v":1.43,"w":1.44},{"v":1.44,"w":1.45},{"v":1.45,"w":1.46},{"v":1.46,"w":1.47},{"v":1.47,"w":1.48},{"v":1.48,"w":1.49},{"v":1.49,"w":1.5}
]},
"spacing":48,
"hconcat":[
{"spacing":67,"vconcat":[
{"width":1352,"height":1352,"data":{"name":"hm"},"resolve":{"axis":{"x":"independent","y":"independent"}},"layer":[
{"mark":{"type":"rect","strokeWidth":1},"encoding":{
"x":{"field":"a","type":"ordinal","scale":{"paddingInner":0,"paddingOuter":0},"axis":{"orient":"bottom","title":null,"labels":false,"ticks":false,"domain":true,"domainColor":"#262626","domainWidth":10,"domainCap":"square","zindex":1}},
"y":{"field":"b","type":"ordinal","scale":{"paddingInner":0,"paddingOuter":0},"axis":{"orient":"left","title":"aux+","titleAngle":0,"titleAlign":"right","titleBaseline":"middle","titleFontSize":98,"titlePadding":39,"labels":false,"ticks":false,"domain":true,"domainColor":"#262626","domainWidth":10,"domainCap":"square","zindex":1}},
"color":{"field":"p","type":"quantitative","legend":null,"scale":{"type":"log","domain":[0.82,1.5],"range":"heatmap","clamp":true,"interpolate":"rgb"}},
"stroke":{"field":"p","type":"quantitative","legend":null,"scale":{"type":"log","domain":[0.82,1.5],"range":"heatmap","clamp":true,"interpolate":"rgb"}}}},
{"mark":{"type":"rect","strokeWidth":1},"encoding":{
"x":{"field":"b","type":"ordinal","axis":{"orient":"top","title":null,"labels":false,"ticks":false,"domain":true,"domainColor":"#262626","domainWidth":10,"domainCap":"square","zindex":1}},
"y":{"field":"a","type":"ordinal","axis":{"orient":"right","title":null,"labels":false,"ticks":false,"domain":true,"domainColor":"#262626","domainWidth":10,"domainCap":"square","zindex":1}},
"color":{"field":"p","type":"quantitative","legend":null},
"stroke":{"field":"p","type":"quantitative","legend":null}}}
]},
{"width":1352,"height":1352,"data":{"name":"hm"},"resolve":{"axis":{"x":"independent","y":"independent"}},"layer":[
{"mark":{"type":"rect","strokeWidth":1},"encoding":{
"x":{"field":"a","type":"ordinal","scale":{"paddingInner":0,"paddingOuter":0},"axis":{"orient":"bottom","title":null,"labels":false,"ticks":false,"domain":true,"domainColor":"#262626","domainWidth":10,"domainCap":"square","zindex":1}},
"y":{"field":"b","type":"ordinal","scale":{"paddingInner":0,"paddingOuter":0},"axis":{"orient":"left","title":"aux-","titleAngle":0,"titleAlign":"right","titleBaseline":"middle","titleFontSize":98,"titlePadding":34,"labels":false,"ticks":false,"domain":true,"domainColor":"#262626","domainWidth":10,"domainCap":"square","zindex":1}},
"color":{"field":"m","type":"quantitative","legend":null,"scale":{"type":"log","domain":[0.82,1.5],"range":"heatmap","clamp":true,"interpolate":"rgb"}},
"stroke":{"field":"m","type":"quantitative","legend":null,"scale":{"type":"log","domain":[0.82,1.5],"range":"heatmap","clamp":true,"interpolate":"rgb"}}}},
{"mark":{"type":"rect","strokeWidth":1},"encoding":{
"x":{"field":"b","type":"ordinal","axis":{"orient":"top","title":null,"labels":false,"ticks":false,"domain":true,"domainColor":"#262626","domainWidth":10,"domainCap":"square","zindex":1}},
"y":{"field":"a","type":"ordinal","axis":{"orient":"right","title":null,"labels":false,"ticks":false,"domain":true,"domainColor":"#262626","domainWidth":10,"domainCap":"square","zindex":1}},
"color":{"field":"m","type":"quantitative","legend":null},
"stroke":{"field":"m","type":"quantitative","legend":null}}}
]}
]},
{"width":129,"height":2773,"layer":[
{"data":{"name":"cb"},"mark":{"type":"rect","strokeWidth":1},"encoding":{
"y":{"field":"v","type":"quantitative","scale":{"type":"log","domain":[0.82,1.5],"nice":false},"axis":{"orient":"right","values":[0.82,1.5],"title":null,"grid":false,"domain":false,"tickColor":"#262626","tickWidth":10,"tickSize":47,"labelFontSize":90,"labelPadding":33,"labelLimit":500,"labelFlush":false,"labelOverlap":false,"labelExpr":"datum.value<1 ? '0.82' : '1.5'","zindex":1}},
"y2":{"field":"w"},
"color":{"field":"v","type":"quantitative","legend":null,"scale":{"type":"log","domain":[0.82,1.5],"range":"heatmap","clamp":true,"interpolate":"rgb"}},
"stroke":{"field":"v","type":"quantitative","legend":null,"scale":{"type":"log","domain":[0.82,1.5],"range":"heatmap","clamp":true,"interpolate":"rgb"}}}},
{"data":{"values":[{"lo":0.82,"hi":1.5}]},"mark":{"type":"rect","fillOpacity":0,"stroke":"#262626","strokeWidth":10},"encoding":{"y":{"field":"lo","type":"quantitative"},"y2":{"field":"hi"}}}
]}
]}
